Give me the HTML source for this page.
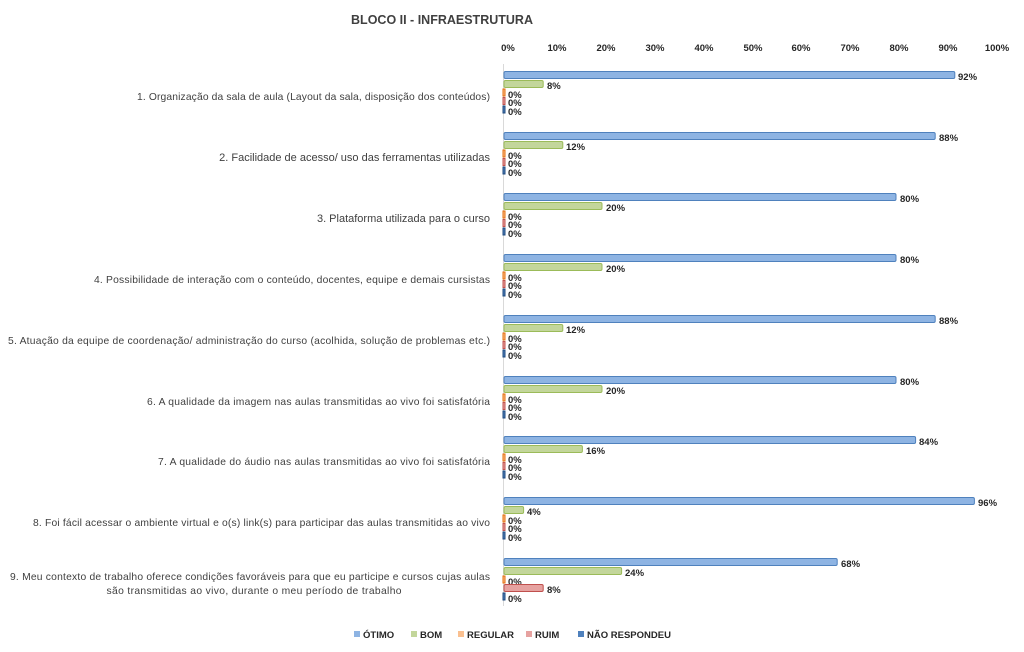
<!DOCTYPE html>
<html><head><meta charset="utf-8"><style>
body{margin:0;background:#fff}
svg{display:block;font-family:"Liberation Sans",sans-serif}
.c{font-size:10.3px;fill:#404040}
.v{font-size:9.5px;font-weight:bold;fill:#262626}
.t{font-size:9.5px;font-weight:bold;fill:#262626}
.b{fill:#8eb4e3;stroke:#4f81bd;stroke-width:1}
.g{fill:#c3d69b;stroke:#9bbb59;stroke-width:1}
.r{fill:#fac090;stroke:#e46c0a;stroke-width:1}
.u{fill:#e6a2a0;stroke:#c0504d;stroke-width:1}
.n{fill:#4f81bd;stroke:#1f497d;stroke-width:1}
</style></head><body>
<svg width="1024" height="652" viewBox="0 0 1024 652">
<text x="442" y="24" text-anchor="middle" style="font-size:12.5px;font-weight:bold;fill:#404040">BLOCO II - INFRAESTRUTURA</text>
<g class="t" text-anchor="middle">
<text x="508" y="51">0%</text><text x="557" y="51">10%</text><text x="606" y="51">20%</text><text x="655" y="51">30%</text><text x="704" y="51">40%</text><text x="753" y="51">50%</text><text x="801" y="51">60%</text><text x="850" y="51">70%</text><text x="899" y="51">80%</text><text x="948" y="51">90%</text><text x="997" y="51">100%</text>
</g>
<line x1="503.5" y1="64" x2="503.5" y2="606" stroke="#d9d9d9"/>
<g class="c" text-anchor="end">
<text x="490" y="100" textLength="353" lengthAdjust="spacing">1. Organização da sala de aula (Layout da sala, disposição dos conteúdos)</text>
<text x="490" y="161" style="font-size:11px">2. Facilidade de acesso/ uso das ferramentas utilizadas</text>
<text x="490" y="222" style="font-size:11px">3. Plataforma utilizada para o curso</text>
<text x="490" y="283" textLength="396" lengthAdjust="spacing">4. Possibilidade de interação com o conteúdo, docentes, equipe e demais cursistas</text>
<text x="490" y="344" textLength="482" lengthAdjust="spacing">5. Atuação da equipe de coordenação/ administração do curso (acolhida, solução de problemas etc.)</text>
<text x="490" y="405" textLength="343" lengthAdjust="spacing">6. A qualidade da imagem nas aulas transmitidas ao vivo foi satisfatória</text>
<text x="490" y="465" textLength="332" lengthAdjust="spacing">7. A qualidade do áudio nas aulas transmitidas ao vivo foi satisfatória</text>
<text x="490" y="526" textLength="457" lengthAdjust="spacing">8. Foi fácil acessar o ambiente virtual e o(s) link(s) para participar das aulas transmitidas ao vivo</text>
</g>
<g class="c" text-anchor="middle">
<text x="250" y="580" textLength="480" lengthAdjust="spacing">9. Meu contexto de trabalho oferece condições favoráveis para que eu participe e cursos cujas aulas</text>
<text x="254" y="594" textLength="295" lengthAdjust="spacing">são transmitidas ao vivo, durante o meu período de trabalho</text>
</g>

<rect class="b" x="504" y="71.5" width="450.8" height="7" rx="1.5"/><text class="v" x="958" y="80">92%</text>
<rect class="g" x="504" y="80.5" width="39.2" height="7" rx="1.5"/><text class="v" x="547" y="89">8%</text>
<rect class="r" x="503" y="89" width="2" height="7"/><text class="v" x="508" y="98">0%</text>
<rect class="u" x="503" y="97.5" width="2" height="7"/><text class="v" x="508" y="106">0%</text>
<rect class="n" x="503" y="106" width="2" height="7"/><text class="v" x="508" y="115">0%</text>

<rect class="b" x="504" y="132.5" width="431.2" height="7" rx="1.5"/><text class="v" x="939" y="141">88%</text>
<rect class="g" x="504" y="141.5" width="58.8" height="7" rx="1.5"/><text class="v" x="566" y="150">12%</text>
<rect class="r" x="503" y="150" width="2" height="7"/><text class="v" x="508" y="159">0%</text>
<rect class="u" x="503" y="158.5" width="2" height="7"/><text class="v" x="508" y="167">0%</text>
<rect class="n" x="503" y="167" width="2" height="7"/><text class="v" x="508" y="176">0%</text>

<rect class="b" x="504" y="193.5" width="392" height="7" rx="1.5"/><text class="v" x="900" y="202">80%</text>
<rect class="g" x="504" y="202.5" width="98" height="7" rx="1.5"/><text class="v" x="606" y="211">20%</text>
<rect class="r" x="503" y="211" width="2" height="7"/><text class="v" x="508" y="220">0%</text>
<rect class="u" x="503" y="219.5" width="2" height="7"/><text class="v" x="508" y="228">0%</text>
<rect class="n" x="503" y="228" width="2" height="7"/><text class="v" x="508" y="237">0%</text>

<rect class="b" x="504" y="254.5" width="392" height="7" rx="1.5"/><text class="v" x="900" y="263">80%</text>
<rect class="g" x="504" y="263.5" width="98" height="7" rx="1.5"/><text class="v" x="606" y="272">20%</text>
<rect class="r" x="503" y="272" width="2" height="7"/><text class="v" x="508" y="281">0%</text>
<rect class="u" x="503" y="280.5" width="2" height="7"/><text class="v" x="508" y="289">0%</text>
<rect class="n" x="503" y="289" width="2" height="7"/><text class="v" x="508" y="298">0%</text>

<rect class="b" x="504" y="315.5" width="431.2" height="7" rx="1.5"/><text class="v" x="939" y="324">88%</text>
<rect class="g" x="504" y="324.5" width="58.8" height="7" rx="1.5"/><text class="v" x="566" y="333">12%</text>
<rect class="r" x="503" y="333" width="2" height="7"/><text class="v" x="508" y="342">0%</text>
<rect class="u" x="503" y="341.5" width="2" height="7"/><text class="v" x="508" y="350">0%</text>
<rect class="n" x="503" y="350" width="2" height="7"/><text class="v" x="508" y="359">0%</text>

<rect class="b" x="504" y="376.5" width="392" height="7" rx="1.5"/><text class="v" x="900" y="385">80%</text>
<rect class="g" x="504" y="385.5" width="98" height="7" rx="1.5"/><text class="v" x="606" y="394">20%</text>
<rect class="r" x="503" y="394" width="2" height="7"/><text class="v" x="508" y="403">0%</text>
<rect class="u" x="503" y="402.5" width="2" height="7"/><text class="v" x="508" y="411">0%</text>
<rect class="n" x="503" y="411" width="2" height="7"/><text class="v" x="508" y="420">0%</text>

<rect class="b" x="504" y="436.5" width="411.6" height="7" rx="1.5"/><text class="v" x="919" y="445">84%</text>
<rect class="g" x="504" y="445.5" width="78.4" height="7" rx="1.5"/><text class="v" x="586" y="454">16%</text>
<rect class="r" x="503" y="454" width="2" height="7"/><text class="v" x="508" y="463">0%</text>
<rect class="u" x="503" y="462.5" width="2" height="7"/><text class="v" x="508" y="471">0%</text>
<rect class="n" x="503" y="471" width="2" height="7"/><text class="v" x="508" y="480">0%</text>

<rect class="b" x="504" y="497.5" width="470.4" height="7" rx="1.5"/><text class="v" x="978" y="506">96%</text>
<rect class="g" x="504" y="506.5" width="19.6" height="7" rx="1.5"/><text class="v" x="527" y="515">4%</text>
<rect class="r" x="503" y="515" width="2" height="7"/><text class="v" x="508" y="524">0%</text>
<rect class="u" x="503" y="523.5" width="2" height="7"/><text class="v" x="508" y="532">0%</text>
<rect class="n" x="503" y="532" width="2" height="7"/><text class="v" x="508" y="541">0%</text>

<rect class="b" x="504" y="558.5" width="333.2" height="7" rx="1.5"/><text class="v" x="841" y="567">68%</text>
<rect class="g" x="504" y="567.5" width="117.6" height="7" rx="1.5"/><text class="v" x="625" y="576">24%</text>
<rect class="r" x="503" y="576" width="2" height="7"/><text class="v" x="508" y="585">0%</text>
<rect class="u" x="504" y="584.5" width="39.2" height="7" rx="1.5"/><text class="v" x="547" y="593">8%</text>
<rect class="n" x="503" y="593" width="2" height="7"/><text class="v" x="508" y="602">0%</text>

<g class="t">
<rect x="354" y="631" width="6" height="6" fill="#8eb4e3"/><text x="363" y="638">ÓTIMO</text>
<rect x="411" y="631" width="6" height="6" fill="#c3d69b"/><text x="420" y="638">BOM</text>
<rect x="458" y="631" width="6" height="6" fill="#fac090"/><text x="467" y="638">REGULAR</text>
<rect x="526" y="631" width="6" height="6" fill="#e6a2a0"/><text x="535" y="638">RUIM</text>
<rect x="578" y="631" width="6" height="6" fill="#4f81bd"/><text x="587" y="638">NÃO RESPONDEU</text>
</g>
</svg>
</body></html>
